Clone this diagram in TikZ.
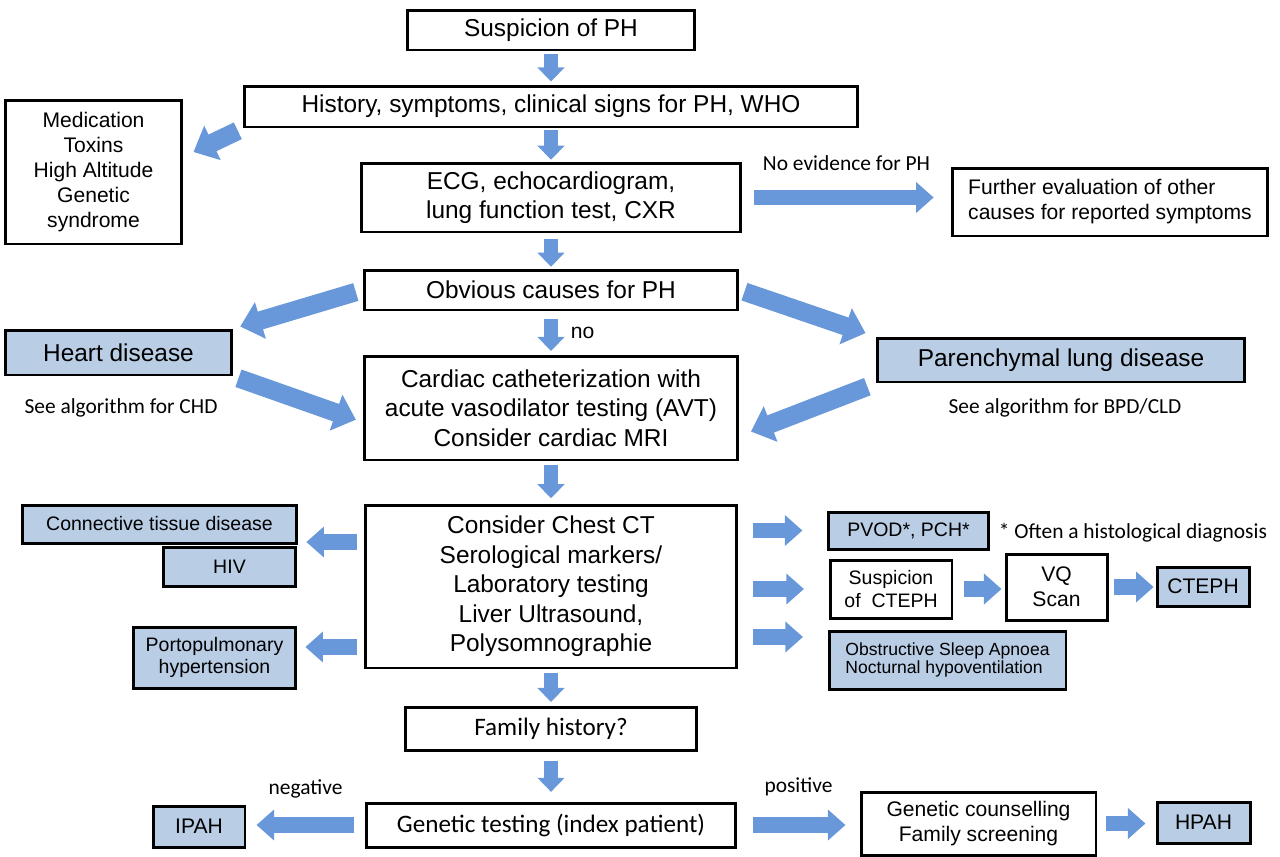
\documentclass[tikz,border=0pt]{standalone}
\usepackage{fontspec}
\setmainfont{Liberation Sans}
\newfontfamily\calibri{Carlito}
\usepackage{tikz}
\usetikzlibrary{arrows.meta, positioning}

\definecolor{boxblue}{RGB}{185,205,229}
\definecolor{arrowblue}{RGB}{104,152,218}
\newcommand{\bigsz}{\fontsize{13.9}{16.8}\selectfont}
\newcommand{\midsz}{\fontsize{12}{14.2}\selectfont}
\newcommand{\smallsz}{\fontsize{11.1}{12.8}\selectfont}
\newcommand{\notesz}{\calibri\fontsize{12.2}{14}\selectfont}
\newcommand{\calsz}{\calibri\fontsize{14.3}{16.5}\selectfont}

\begin{document}
\begin{tikzpicture}[x=0.02cm, y=-0.02cm,
    box/.style={draw, line width=1.7pt, align=center, inner sep=2pt, font=\bigsz},
    bluebox/.style={box, fill=boxblue},
    note/.style={font=\notesz, inner sep=2pt},
    flow/.style={draw=arrowblue, line width=7.9pt, -{Triangle[width=15pt,length=8pt]}},
    fatflow/.style={draw=arrowblue, line width=9pt, -{Triangle[width=17pt,length=10pt]}},
    bigflow/.style={draw=arrowblue, line width=10.5pt, -{Triangle[width=21pt,length=12pt]}}]
            \useasboundingbox (0,0) rectangle (1280,856);

            % Main column
            \node[box, minimum width=5.76cm, minimum height=0.8cm] (susp) at (551,30) {Suspicion of PH};
            \node[box, minimum width=12.28cm, minimum height=0.82cm] (hist) at (551,106.5) {History, symptoms, clinical signs for PH, WHO};
            \node[box, minimum width=7.6cm, minimum height=1.38cm] (ecg) at (551,197.5) {ECG, echocardiogram,\\lung function test, CXR};
            \node[box, minimum width=7.48cm, minimum height=0.8cm] (obv) at (551,290) {Obvious causes for PH};
            \node[box, minimum width=7.48cm, minimum height=2.08cm] (card) at (551,408) {Cardiac catheterization with\\acute vasodilator testing (AVT)\\Consider cardiac MRI};
            \node[box, minimum width=7.44cm, minimum height=3.26cm] (ct) at (551,586.5) {Consider Chest CT\\Serological markers/\\Laboratory testing\\Liver Ultrasound,\\Polysomnographie};
            \node[box, font=\calsz, minimum width=5.84cm, minimum height=0.86cm] (fam) at (551,728.5) {Family history?};
            \node[box, font=\calsz, minimum width=7.4cm, minimum height=0.88cm] (gen) at (551,825) {Genetic testing (index patient)};

            % Left side
            \node[box, font=\midsz, minimum width=3.54cm, minimum height=2.88cm] (med) at (93.5,172) {Medication\\Toxins\\High Altitude\\Genetic\\syndrome};
            \node[bluebox, minimum width=4.54cm, minimum height=0.9cm] (heart) at (118.5,352.5) {Heart disease};
            \node[note] (chd) at (121,408) {See algorithm for CHD};
            \node[bluebox, font=\smallsz, minimum width=5.5cm, minimum height=0.76cm] (ctd) at (159.5,524) {Connective tissue disease};
            \node[bluebox, font=\smallsz, minimum width=2.66cm, minimum height=0.78cm] (hiv) at (229.5,566.5) {HIV};
            \node[bluebox, font=\smallsz, minimum width=3.26cm, minimum height=1.22cm] (porto) at (214.5,657.5) {Portopulmonary\\hypertension};
            \node[bluebox, font=\midsz, minimum width=1.84cm, minimum height=0.82cm] (ipah) at (199,826.5) {IPAH};

            % Right side
            \node[box, font=\midsz, align=left, minimum width=6.32cm, minimum height=1.36cm] (further) at (1110,202) {Further evaluation of other\\causes for reported symptoms};
            \node[bluebox, minimum width=7.36cm, minimum height=0.88cm] (paren) at (1061,360) {Parenchymal lung disease};
            \node[note] (bpd) at (1065,408) {See algorithm for BPD/CLD};
            \node[bluebox, font=\smallsz, minimum width=3.2cm, minimum height=0.74cm] (pvod) at (908.5,530.5) {PVOD*, PCH*};
            \node[note, anchor=west] (histo) at (995,533) {* Often a histological diagnosis};
            \node[box, font=\smallsz, minimum width=2.44cm, minimum height=1.16cm] (suspct) at (891,589) {Suspicion\\of\ \ CTEPH};
            \node[box, font=\midsz, minimum width=2.02cm, minimum height=1.32cm] (vq) at (1056.5,587) {VQ\\Scan};
            \node[bluebox, font=\midsz, minimum width=1.84cm, minimum height=0.78cm] (cteph) at (1203,586.5) {CTEPH};
            \node[bluebox, font=\fontsize{10}{10.6}\selectfont, align=left, minimum width=4.74cm, minimum height=1.16cm] (osa) at (947.5,660) {Obstructive Sleep Apnoea\\Nocturnal hypoventilation};
            \node[box, font=\midsz, minimum width=4.7cm, minimum height=1.26cm] (couns) at (978.5,823.5) {Genetic counselling\\Family screening};
            \node[bluebox, font=\midsz, minimum width=1.86cm, minimum height=0.82cm] (hpah) at (1203.5,822.5) {HPAH};

            % Down the middle
            \draw[flow, shorten <=1.7pt, shorten >=1.7pt] (susp) -- (hist);
            \draw[flow, shorten <=1pt, shorten >=1pt] (hist) -- (ecg);
            \draw[flow, shorten <=3pt, shorten >=1pt] (ecg) -- (obv);
            \draw[flow, shorten <=4pt, shorten >=2pt] (obv) -- (card) node[midway, right=4pt, font=\midsz] (no) {no};
            \draw[flow, shorten <=2pt, shorten >=3pt] (card) -- (ct);
            \draw[flow, shorten <=2pt, shorten >=2pt] (ct) -- (fam);
            \draw[flow, shorten <=5.5pt, shorten >=5.5pt] (fam) -- (gen);

            % Sideways
            \draw[fatflow, shorten <=6.8pt, shorten >=9.6pt] (ecg.east) -- (ecg.east -| further.west) node[midway, above=9pt, note] (noev) {No evidence for PH};
            \draw[fatflow, shorten <=4pt, shorten >=4.5pt] ([yshift=0.89cm]ct.west) -- ([yshift=0.89cm]ct.west -| ctd.east);
            \draw[fatflow, shorten <=4pt, shorten >=4.5pt] ([yshift=-1.21cm]ct.west) -- ([yshift=-1.21cm]ct.west -| porto.east);
            \draw[fatflow, shorten <=8.5pt, shorten >=14pt] (ct.east |- pvod.west) -- (pvod.west);
            \draw[fatflow, shorten <=8.5pt, shorten >=14pt] (ct.east |- suspct.west) -- (suspct.west);
            \draw[fatflow, shorten <=8.5pt, shorten >=14pt] ([yshift=-1.01cm]ct.east) -- ([yshift=-1.01cm]ct.east -| osa.west);
            \draw[fatflow, shorten <=5.7pt, shorten >=1.7pt] (suspct.east) -- (suspct.east -| vq.west);
            \draw[fatflow, shorten <=3pt, shorten >=1.1pt] (vq.east) -- (vq.east -| cteph.west);
            \draw[fatflow, shorten <=6.2pt, shorten >=5.7pt] (gen.west) -- (gen.west -| ipah.east) node[midway, above=9pt, note] (neg) {negative};
            \draw[fatflow, shorten <=9pt, shorten >=8pt] (gen.east) -- (gen.east -| couns.west) node[midway, above=10pt, note] (pos) {positive};
            \draw[fatflow, shorten <=5pt, shorten >=5.7pt] (couns.east) -- (couns.east -| hpah.west);

            % Slanted
            \draw[bigflow, shorten <=3pt] (hist.south west) -- ([xshift=0.2cm, yshift=0.4cm]med.east);
            \draw[bigflow, shorten <=4pt, shorten >=4pt] (obv.west) -- (heart.north east);
            \draw[bigflow, shorten <=3pt, shorten >=6pt] (obv.east) -- (paren.north west);
            \draw[bigflow, shorten <=3pt, shorten >=4pt] (heart.south east) -- ([yshift=-0.28cm]card.west);
            \draw[bigflow, shorten <=5pt, shorten >=7pt] (paren.south west) -- ([yshift=-0.56cm]card.east);
        \end{tikzpicture}
\end{document}
